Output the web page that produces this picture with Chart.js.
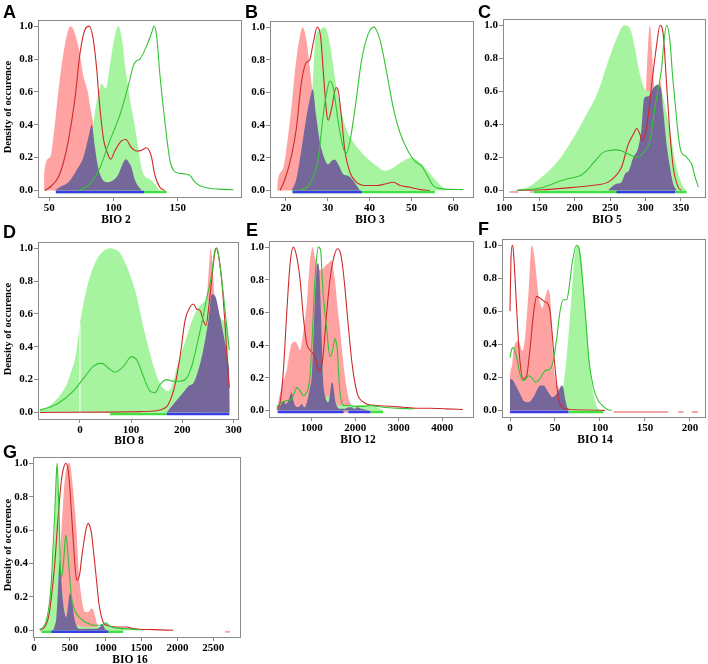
<!DOCTYPE html>
<html>
<head>
<meta charset="utf-8">
<script src="https://cdn.jsdelivr.net/npm/chart.js"></script>
<style>
  body { margin: 0; background: #fff; }
  #fig { position: relative; width: 708px; height: 664px; overflow: hidden; }
  #fig canvas { position: absolute; }
  .tag { position: absolute; font: bold 18px "Liberation Sans", Arial, sans-serif; line-height: 18px; color: #000; }
  .xt { position: absolute; font: bold 11.5px "Liberation Serif", "Times New Roman", serif; color: #000;
        transform: translate(-50%, -50%); white-space: nowrap; }
  .yt { position: absolute; font: bold 10.5px "Liberation Serif", "Times New Roman", serif; color: #000;
        transform: translate(-50%, -50%) rotate(-90deg); white-space: nowrap; }
</style>
</head>
<body>
<div id="fig"></div>
<script>
// shared labels
const Y_TICKS = [0, 0.2, 0.4, 0.6, 0.8, 1.0];
const Y_TITLE = "Density of occurence";

// Panel A - BIO 2
const aXTicks = [50, 100, 150];
const aRedFill = [[45.9,0],[46,0.1],[50.5,0.2],[54,0.38],[57,0.6],[62,0.88],[66.6,1.0],[72.6,0.88],[76.5,0.7],[80,0.6],[82,0.5],[84,0.42],[87,0.3],[90,0.2],[95,0.08],[100,0.02],[105,0]];
const aGreenFill = [[70,0],[75,0.02],[78,0.06],[81,0.15],[83,0.3],[85.6,0.48],[88,0.58],[90.8,0.65],[94,0.62],[97,0.75],[100,0.9],[103.8,1.0],[107,0.9],[109,0.76],[112,0.6],[114,0.5],[116,0.42],[118,0.32],[120,0.22],[122,0.13],[124,0.09],[128,0.07],[131,0.05],[134,0.02],[136,0]];
const aPurple = [[54.4,0],[58,0.02],[63.5,0.04],[67,0.07],[71,0.12],[76.5,0.2],[81,0.34],[83,0.4],[85.6,0.26],[87.5,0.16],[89.5,0.1],[92,0.06],[94.7,0.05],[98,0.055],[101,0.07],[104,0.1],[106,0.14],[109.7,0.19],[112,0.17],[114,0.14],[116,0.08],[118,0.04],[122,0]];
const aRedLine = [[46.6,0],[52,0.03],[57,0.08],[61,0.17],[64.8,0.3],[70,0.56],[74,0.84],[77.8,0.98],[81,1.0],[84,0.93],[86.9,0.74],[88.5,0.58],[90.8,0.4],[92.5,0.3],[94.7,0.24],[97.8,0.19],[101,0.24],[106,0.3],[109.7,0.31],[114,0.26],[118,0.24],[122,0.245],[125.8,0.26],[128,0.24],[129.7,0.2],[132,0.1],[136,0.02],[140,0]];
const aGreenLine = [[72.6,0],[81.7,0.04],[89.5,0.14],[97,0.3],[105,0.46],[111.6,0.64],[115.5,0.76],[118,0.79],[120.6,0.8],[125.8,0.88],[129.7,0.96],[131.6,1.0],[133.6,0.94],[136.2,0.7],[140,0.42],[144,0.18],[147,0.12],[151,0.105],[156,0.1],[159.6,0.09],[163.5,0.05],[167,0.03],[172.6,0.016],[182,0.008],[193.4,0.004]];
const aBarRed = [];
const aBarGreen = [[55,141.4]];
const aBarBlue = [[55.2,123.8]];

// Panel B - BIO 3
const bXTicks = [20, 30, 40, 50, 60];
const bRedFill = [[17.9,0],[18,0.045],[19.4,0.14],[20.6,0.35],[21.5,0.55],[22.2,0.74],[23.3,0.94],[24,1.0],[24.9,0.92],[25.5,0.8],[26.1,0.66],[26.8,0.52],[27.5,0.4],[28.5,0.25],[30,0.1],[32,0.04],[35,0.01],[37,0]];
const bGreenFill = [[21,0],[23,0.03],[24.5,0.12],[25.5,0.3],[26,0.45],[26.5,0.7],[27,0.92],[28,0.98],[29.3,1.0],[30.5,0.9],[31.2,0.78],[32,0.64],[33.3,0.48],[34.5,0.37],[36,0.3],[37.5,0.25],[39.3,0.2],[41.7,0.15],[43.7,0.12],[45.7,0.14],[48,0.18],[50,0.2],[51.6,0.18],[53.2,0.14],[55.2,0.08],[56.8,0.035],[58.4,0]];
const bPurple = [[21.4,0],[22.5,0.07],[23.7,0.25],[24.9,0.45],[25.9,0.58],[26.4,0.62],[27.2,0.46],[28.1,0.3],[29.3,0.19],[30.1,0.16],[30.9,0.18],[31.7,0.19],[32.5,0.16],[33.7,0.1],[34.9,0.09],[36.1,0.06],[37.7,0]];
const bRedLine = [[18.6,0],[19.8,0.07],[21.4,0.22],[22.5,0.38],[23.7,0.66],[24.8,0.78],[25.7,0.8],[26.5,0.9],[27.5,1.0],[28.3,0.94],[28.9,0.74],[29.7,0.48],[30.1,0.43],[30.9,0.5],[32,0.63],[32.5,0.61],[33.3,0.44],[34.1,0.24],[35.3,0.11],[36.9,0.05],[39.3,0.03],[41.7,0.03],[43.7,0.04],[45.7,0.05],[47.3,0.03],[49.6,0.02],[52,0.005],[54.4,0]];
const bGreenLine = [[23.3,0],[25.7,0.04],[27.7,0.19],[28.9,0.46],[29.9,0.62],[30.5,0.67],[31.3,0.63],[32.5,0.42],[33.7,0.26],[34.5,0.23],[35.3,0.3],[36.5,0.5],[38.1,0.8],[39.7,0.96],[41,1.0],[42.5,0.92],[44.1,0.72],[45.7,0.5],[47.3,0.35],[49.2,0.24],[50.8,0.18],[52.4,0.15],[53.6,0.1],[55.2,0.03],[57.6,0.01],[62.4,0.005]];
const bBarRed = [];
const bBarGreen = [[21.6,55.6]];
const bBarBlue = [[21.6,38.1]];

// Panel C - BIO 5
const cXTicks = [100, 150, 200, 250, 300, 350];
const cRedFill = [[288,0],[292,0.05],[296,0.2],[299,0.45],[302,0.75],[304,0.92],[306,1.0],[308,0.92],[310.5,0.72],[313,0.6],[315.6,0.58],[318,0.62],[321,0.66],[324,0.55],[328,0.3],[332,0.1],[336,0.02],[340,0]];
const cGreenFill = [[115.5,0],[134,0.02],[153,0.08],[176.7,0.18],[195.6,0.3],[214,0.44],[233,0.6],[247,0.78],[259,0.92],[270,1.0],[278,0.98],[285,0.86],[292,0.7],[298,0.62],[305,0.6],[315,0.6],[322,0.6],[328,0.5],[334,0.38],[340,0.22],[346,0.1],[352,0.03],[358,0]];
const cPurple = [[247,0],[252,0.02],[259,0.04],[266,0.05],[271,0.1],[276.5,0.12],[282.7,0.2],[289.7,0.26],[294.4,0.38],[298,0.56],[304,0.57],[311,0.62],[317,0.64],[321.7,0.62],[325,0.48],[329.7,0.28],[334.5,0.14],[339,0.04],[344,0]];
const cRedLine = [[120,0],[153,0.004],[186,0.014],[224,0.03],[247,0.05],[258,0.09],[266,0.14],[275.6,0.28],[282.7,0.34],[287.4,0.375],[292,0.34],[295,0.3],[297,0.31],[301.5,0.38],[305,0.5],[308.6,0.64],[315.6,0.88],[320.3,1.0],[325,0.94],[329.7,0.64],[334.5,0.34],[339,0.14],[346,0.02],[351,0]];
const cGreenLine = [[118,0],[153,0.016],[181.5,0.06],[200,0.08],[208,0.09],[216.8,0.12],[225,0.16],[233,0.2],[240,0.23],[247,0.24],[258,0.245],[266,0.24],[275.6,0.22],[287.4,0.2],[297,0.23],[306,0.3],[313,0.5],[318,0.62],[322.7,0.74],[325.5,0.88],[329.7,1.0],[334.5,0.9],[338,0.7],[341.5,0.54],[345,0.38],[348.6,0.26],[352,0.22],[355.6,0.21],[360,0.19],[365,0.16],[370,0.08],[374.5,0.02]];
const cBarRed = [[108,120],[137,140]];
const cBarGreen = [[141.4,358]];
const cBarBlue = [[259,341.5]];

// Panel D - BIO 8
const dXTicks = [0, 100, 200, 300];
const dRedFill = [[238,0],[242,0.4],[246,0.58],[250,0.78],[253,0.92],[256,1.0],[259,0.9],[262,0.75],[266,0.62],[272,0.5],[280,0.35],[288,0.15],[292,0]];
const dGreenFill = [[-79,0],[-78,0.015],[-65,0.03],[-52,0.06],[-40,0.1],[-26,0.17],[-17,0.25],[-10,0.32],[-5,0.42],[0,0.54],[6,0.65],[13,0.75],[22,0.85],[32.6,0.93],[45,0.98],[58.7,1.0],[70,0.99],[78,0.97],[90,0.9],[101,0.81],[110,0.72],[117,0.62],[127,0.48],[137,0.36],[145,0.27],[153,0.2],[160,0.16],[166,0.14],[173,0.13],[178,0.15],[182.6,0.19],[189,0.27],[195.7,0.34],[208.7,0.46],[218,0.55],[228,0.62],[238,0.66],[248,0.68],[258,0.67],[267.5,0.62],[280.5,0.56],[290,0.5],[291,0]];
const dPurple = [[169.6,0],[182.6,0.05],[199,0.11],[212,0.16],[222,0.18],[231.6,0.26],[241,0.38],[251,0.56],[257.7,0.72],[264,0.71],[274,0.58],[284,0.42],[290,0.3],[292,0.22],[293,0]];
const dRedLine = [[-78,0],[117,0.005],[150,0.01],[165,0.025],[173,0.05],[186,0.17],[195.7,0.34],[205.5,0.56],[215,0.64],[222,0.66],[228,0.63],[235,0.62],[241,0.56],[246.6,0.53],[251,0.62],[257.7,0.81],[263,0.96],[266,1.0],[270,0.97],[277,0.81],[284,0.52],[290,0.22],[292,0.15]];
const dGreenLine = [[-78,0.014],[-45.6,0.05],[-13,0.13],[10,0.22],[26,0.28],[42.4,0.3],[55.4,0.27],[68.5,0.245],[85,0.28],[101,0.34],[111,0.32],[124,0.22],[137,0.13],[147,0.12],[156.6,0.17],[169.6,0.2],[182.6,0.19],[195.7,0.19],[208.7,0.21],[218.5,0.28],[228,0.4],[238,0.54],[248,0.7],[257.7,0.84],[264,0.99],[267.5,1.0],[277,0.81],[287,0.52],[292,0.38]];
const dGap = [[0,0],[0,0.54]];
const dBarRed = [];
const dBarGreen = [[58.7,169.6]];
const dBarBlue = [[169.6,292]];

// Panel E - BIO 12
const eXTicks = [1000, 2000, 3000, 4000];
const eRedFill = [[198,0],[230,0.05],[313,0.15],[427,0.25],[542,0.41],[618,0.42],[680,0.4],[733,0.37],[790,0.45],[840,0.55],[885,0.65],[925,0.8],[962,0.92],[1023,1.0],[1070,0.94],[1130,0.88],[1200,0.86],[1267,0.87],[1330,0.89],[1382,0.9],[1458,0.92],[1500,0.86],[1534,0.8],[1590,0.64],[1649,0.5],[1710,0.33],[1763,0.21],[1820,0.11],[1878,0.05],[1950,0.02],[2030,0.01],[2100,0]];
const eGreenFill = [[250,0],[400,0.02],[700,0.02],[900,0.03],[1000,0.1],[1080,0.5],[1130,0.85],[1170,0.8],[1230,0.4],[1300,0.08],[1500,0.1],[1600,0.03],[1800,0.03],[2000,0.03],[2200,0.035],[2400,0.035],[2500,0.02],[2650,0]];
const ePurple = [[198,0],[280,0.03],[351,0.06],[400,0.04],[450,0.05],[542,0.11],[580,0.06],[618,0.03],[695,0.02],[771,0.04],[830,0.02],[880,0.04],[924,0.09],[960,0.14],[1000,0.21],[1040,0.45],[1076,0.7],[1110,0.86],[1130,0.9],[1150,0.9],[1176,0.85],[1200,0.7],[1229,0.45],[1260,0.2],[1305,0.09],[1340,0.06],[1382,0.05],[1420,0.1],[1458,0.17],[1480,0.17],[1496,0.15],[1530,0.08],[1573,0.03],[1650,0.01],[1750,0.01],[1850,0.02],[1916,0.02],[1980,0.01],[2050,0.02],[2150,0.01],[2336,0]];
const eRedLine = [[198,0.01],[275,0.05],[351,0.25],[427,0.6],[504,0.9],[580,1.0],[656,0.94],[733,0.8],[809,0.57],[885,0.41],[962,0.37],[1020,0.35],[1076,0.33],[1153,0.25],[1191,0.24],[1230,0.27],[1267,0.35],[1344,0.6],[1420,0.8],[1511,0.94],[1588,0.99],[1664,0.96],[1720,0.86],[1763,0.75],[1820,0.58],[1878,0.41],[1935,0.27],[1992,0.17],[2050,0.1],[2107,0.07],[2260,0.04],[2489,0.03],[2794,0.026],[3100,0.02],[3405,0.014],[3710,0.014],[4092,0.01],[4473,0.006]];
const eGreenLine = [[198,0.02],[313,0.05],[427,0.06],[542,0.07],[618,0.12],[656,0.14],[700,0.13],[733,0.12],[809,0.09],[860,0.1],[901,0.12],[962,0.21],[1000,0.38],[1038,0.6],[1070,0.78],[1100,0.9],[1153,1.0],[1206,0.98],[1240,0.82],[1267,0.7],[1344,0.5],[1420,0.33],[1450,0.34],[1481,0.37],[1534,0.44],[1560,0.42],[1588,0.37],[1620,0.22],[1649,0.11],[1690,0.05],[1725,0.03],[1878,0.03],[2030,0.025],[2183,0.025],[2336,0.03],[2641,0.02],[2947,0.014],[3328,0.01]];
const eBarRed = [[198,1840]];
const eBarGreen = [[2350,2640]];
const eBarBlue = [[230,1730],[1840,2350]];

// Panel F - BIO 14
const fXTicks = [0, 50, 100, 150, 200];
const fRedFill = [[-0.1,0],[0,0.2],[1.9,0.26],[3.7,0.36],[5.6,0.4],[8.5,0.42],[11,0.4],[13.7,0.36],[16.7,0.44],[18.5,0.56],[20.4,0.7],[22,0.85],[24,1.0],[26,0.97],[27.8,0.9],[30,0.78],[31.5,0.7],[34,0.64],[36,0.62],[39,0.68],[41.9,0.73],[44.4,0.7],[46,0.55],[47,0.4],[50,0.2],[53.7,0.14],[57.4,0.1],[59,0.06],[61,0.02],[65,0]];
const fGreenFill = [[50,0],[55.6,0.06],[61,0.22],[64.8,0.44],[68.5,0.7],[72,0.94],[75,1.0],[78.9,0.94],[82.6,0.7],[86.3,0.44],[90,0.2],[94.4,0.06],[98,0.01],[100,0]];
const fPurple = [[-0.1,0],[0,0.19],[3.7,0.18],[6.5,0.15],[9.3,0.12],[12,0.09],[14.8,0.06],[20.4,0.05],[26,0.08],[31.5,0.14],[34,0.15],[37,0.15],[42.6,0.11],[47,0.08],[52,0.1],[55,0.13],[57.4,0.15],[59.5,0.13],[61,0.08],[63,0.03],[65,0]];
const fRedLine = [[0,0.6],[1,0.9],[2.5,1.0],[3.5,0.98],[5.6,0.8],[8.5,0.5],[11,0.3],[14.8,0.19],[18.5,0.21],[22,0.36],[26,0.58],[29.6,0.69],[33,0.68],[38,0.66],[42.6,0.64],[44.5,0.6],[46.3,0.5],[50,0.26],[53.7,0.08],[59,0.014],[72,0.004],[105.6,0]];
const fGreenLine = [[0,0.32],[1.9,0.37],[3.7,0.38],[5.5,0.36],[7.4,0.32],[11,0.22],[14.8,0.18],[17.5,0.19],[20.4,0.21],[24,0.2],[28.5,0.17],[33,0.19],[39,0.24],[44.4,0.25],[48,0.3],[52,0.44],[55.6,0.6],[59,0.67],[63,0.67],[65.6,0.74],[69.3,0.9],[74,1.0],[76.7,0.98],[80.4,0.8],[84,0.56],[87.8,0.3],[92.6,0.14],[98,0.06],[103.7,0.024],[109,0.004],[113,0]];
const fBarRed = [[115,176],[187,193],[202,209]];
const fBarGreen = [[65,103.7]];
const fBarBlue = [[0,65]];

// Panel G - BIO 16
const gXTicks = [0, 500, 1000, 1500, 2000, 2500];
const gRedFill = [[172,0],[220,0.03],[265,0.08],[300,0.2],[335,0.32],[360,0.45],[382,0.6],[405,0.76],[428,0.9],[452,0.97],[475,1.0],[498,1.0],[520,0.94],[545,0.84],[570,0.72],[592,0.6],[610,0.45],[629,0.32],[645,0.25],[661,0.2],[685,0.14],[708,0.11],[755,0.11],[801,0.13],[830,0.12],[848,0.09],[870,0.05],[894,0.02],[941,0]];
const gGreenFill = [[79,0],[120,0.01],[172,0.06],[210,0.15],[242,0.3],[265,0.45],[289,0.6],[305,0.8],[321,1.0],[335,0.82],[349,0.6],[365,0.45],[382,0.3],[405,0.18],[428,0.12],[460,0.07],[500,0.04],[600,0.03],[700,0.02],[800,0.02],[918,0.02],[960,0.035],[1001,0.045],[1050,0.03],[1104,0.02],[1250,0.01],[1476,0.005],[1550,0]];
const gPurple = [[265,0],[290,0.03],[312,0.08],[330,0.22],[349,0.38],[362,0.42],[373,0.36],[390,0.24],[405,0.17],[425,0.11],[452,0.08],[475,0.15],[498,0.22],[520,0.2],[536,0.16],[552,0.1],[568,0.06],[600,0.02],[638,0.01],[708,0.01],[780,0.01],[850,0.01],[918,0.02],[941,0.04],[965,0.03],[987,0.01],[1034,0]];
const gRedLine = [[79,0],[149,0.02],[190,0.06],[219,0.12],[255,0.25],[289,0.4],[325,0.62],[359,0.8],[382,0.9],[405,0.96],[443,1.0],[475,0.96],[500,0.85],[522,0.7],[545,0.55],[568,0.4],[585,0.32],[601,0.3],[620,0.31],[638,0.34],[660,0.42],[685,0.5],[722,0.6],[755,0.64],[780,0.62],[801,0.58],[835,0.45],[871,0.3],[905,0.16],[941,0.08],[975,0.04],[1011,0.03],[1150,0.02],[1290,0.02],[1380,0.01],[1476,0.006],[1663,0.004],[1942,0]];
const gGreenLine = [[79,0.006],[130,0.02],[172,0.06],[210,0.15],[242,0.3],[265,0.5],[289,0.7],[305,0.88],[321,1.0],[335,0.88],[349,0.7],[365,0.4],[382,0.32],[400,0.36],[414,0.42],[430,0.52],[443,0.57],[460,0.52],[475,0.44],[500,0.3],[522,0.2],[550,0.14],[592,0.1],[650,0.07],[708,0.05],[765,0.04],[825,0.03],[941,0.03],[975,0.04],[1001,0.045],[1040,0.03],[1081,0.02],[1243,0.01],[1476,0.004]];
const gBarRed = [[2664,2734]];
const gBarGreen = [[102,1243]];
const gBarBlue = [[242,1034]];

// colours
const C = {
  redFill: "#ffa2a2", greenFill: "#a6f4a0", purple: "#76679b",
  redLine: "#cf2a2a", greenLine: "#33c433",
  barRed: "#f4a8a8", barGreen: "#3fe03f", barBlue: "#3b3bea",
  axis: "#8a8a8a", gap: "#ffffff",
};

const panels = [
  { tag: "A", name: "BIO 2", box: [38, 16, 241, 197], xMin: 41.2, xMax: 199.3, xTicks: aXTicks,
    redFill: aRedFill, greenFill: aGreenFill, purple: aPurple, redLine: aRedLine, greenLine: aGreenLine,
    barRed: aBarRed, barGreen: aBarGreen, barBlue: aBarBlue, tagAt: [3, 3], nameAt: [116, 219], yTitle: true },
  { tag: "B", name: "BIO 3", box: [270, 17, 473, 197], xMin: 16.2, xMax: 64.7, xTicks: bXTicks,
    redFill: bRedFill, greenFill: bGreenFill, purple: bPurple, redLine: bRedLine, greenLine: bGreenLine,
    barRed: bBarRed, barGreen: bBarGreen, barBlue: bBarBlue, tagAt: [245, 3], nameAt: [370, 219] },
  { tag: "C", name: "BIO 5", box: [503, 15, 705, 197], xMin: 98.6, xMax: 383.9, xTicks: cXTicks,
    redFill: cRedFill, greenFill: cGreenFill, purple: cPurple, redLine: cRedLine, greenLine: cGreenLine,
    barRed: cBarRed, barGreen: cBarGreen, barBlue: cBarBlue, tagAt: [478, 3], nameAt: [607, 219] },
  { tag: "D", name: "BIO 8", box: [38, 238, 238, 419], xMin: -82, xMax: 309, xTicks: dXTicks,
    redFill: dRedFill, greenFill: dGreenFill, purple: dPurple, redLine: dRedLine, greenLine: dGreenLine,
    barRed: dBarRed, barGreen: dBarGreen, barBlue: dBarBlue, gap: dGap, tagAt: [3, 223], nameAt: [129, 440], yTitle: true },
  { tag: "E", name: "BIO 12", box: [269, 237, 473, 417], xMin: 19, xMax: 4705, xTicks: eXTicks,
    redFill: eRedFill, greenFill: eGreenFill, purple: ePurple, redLine: eRedLine, greenLine: eGreenLine,
    barRed: eBarRed, barGreen: eBarGreen, barBlue: eBarBlue, tagAt: [246, 221], nameAt: [358, 439] },
  { tag: "F", name: "BIO 14", box: [502, 235, 705, 417], xMin: -8.9, xMax: 216.7, xTicks: fXTicks,
    redFill: fRedFill, greenFill: fGreenFill, purple: fPurple, redLine: fRedLine, greenLine: fGreenLine,
    barRed: fBarRed, barGreen: fBarGreen, barBlue: fBarBlue, tagAt: [478, 220], nameAt: [595, 439] },
  { tag: "G", name: "BIO 16", box: [33, 453, 240, 637], xMin: -15, xMax: 2873, xTicks: gXTicks,
    redFill: gRedFill, greenFill: gGreenFill, purple: gPurple, redLine: gRedLine, greenLine: gGreenLine,
    barRed: gBarRed, barGreen: gBarGreen, barBlue: gBarBlue, tagAt: [3, 443], nameAt: [130, 659], yTitle: true },
];

Chart.defaults.font.family = '"Liberation Serif", "Times New Roman", serif';
Chart.defaults.font.size = 11;
Chart.defaults.font.weight = "bold";
Chart.defaults.color = "#000";

const BAR_Y = -0.009;
const toXY = (pts) => pts.map(([x, y]) => ({ x, y }));
const toBar = (segs) => segs.flatMap(([a, b]) => [{ x: a, y: BAR_Y }, { x: b, y: BAR_Y }, { x: b, y: null }]);

const area = (pts, color) => ({
  data: toXY(pts), fill: "origin", backgroundColor: color, borderWidth: 0,
  pointRadius: 0, cubicInterpolationMode: "monotone",
});
const curve = (pts, color) => ({
  data: toXY(pts), fill: false, borderColor: color, borderWidth: 1.1,
  pointRadius: 0, cubicInterpolationMode: "monotone",
});
const bar = (segs, color, w) => ({
  data: toBar(segs), fill: false, borderColor: color, borderWidth: w,
  pointRadius: 0, spanGaps: false, tension: 0,
});

// full grey frame around the plot area
const framePlugin = {
  id: "frame",
  afterDraw(chart) {
    const { left, top, right, bottom } = chart.chartArea;
    const ctx = chart.ctx;
    ctx.save();
    ctx.strokeStyle = C.axis;
    ctx.lineWidth = 1;
    ctx.strokeRect(Math.round(left) + 0.5, Math.round(top) + 0.5, Math.round(right - left), Math.round(bottom - top));
    ctx.restore();
  },
};

const fig = document.getElementById("fig");
const Y_W = 40, PAD_T = 4, PAD_R = 16, X_H = 18;

panels.forEach((p) => {
  const [bl, bt, br, bb] = p.box;
  const cl = bl - Y_W, ct = bt - PAD_T;
  const cv = document.createElement("canvas");
  cv.width = br - cl + PAD_R;
  cv.height = bb - ct + X_H;
  cv.style.left = cl + "px";
  cv.style.top = ct + "px";
  fig.appendChild(cv);

  // first dataset is painted on top
  const datasets = [
    bar(p.barBlue, C.barBlue, 2.5),
    bar(p.barGreen, C.barGreen, 2.5),
    bar(p.barRed, C.barRed, 2),
    curve(p.greenLine, C.greenLine),
    curve(p.redLine, C.redLine),
  ];
  if (p.gap) datasets.push({ ...curve(p.gap, C.gap), borderWidth: 1.2, cubicInterpolationMode: "default", tension: 0 });
  datasets.push(area(p.purple, C.purple), area(p.greenFill, C.greenFill), area(p.redFill, C.redFill));

  new Chart(cv, {
    type: "line",
    data: { datasets },
    options: {
      responsive: false,
      animation: false,
      events: [],
      layout: { padding: { left: 0, top: PAD_T, right: PAD_R, bottom: 0 } },
      plugins: { legend: { display: false }, tooltip: { enabled: false } },
      scales: {
        x: {
          type: "linear", min: p.xMin, max: p.xMax,
          afterBuildTicks: (s) => { s.ticks = p.xTicks.map((v) => ({ value: v })); },
          afterFit: (s) => { s.height = X_H; },
          grid: { display: true, drawOnChartArea: false, drawTicks: true, tickLength: 4, color: C.axis },
          border: { display: false },
          ticks: { autoSkip: false, maxRotation: 0, minRotation: 0, padding: 1, callback: (v) => String(v) },
        },
        y: {
          type: "linear", min: -0.04, max: 1.04,
          afterBuildTicks: (s) => { s.ticks = Y_TICKS.map((v) => ({ value: v })); },
          afterFit: (s) => { s.width = Y_W; },
          grid: { display: true, drawOnChartArea: false, drawTicks: true, tickLength: 4, color: C.axis },
          border: { display: false },
          ticks: { padding: 1, callback: (v) => v.toFixed(1) },
        },
      },
    },
    plugins: [framePlugin],
  });

  const tag = document.createElement("div");
  tag.className = "tag";
  tag.textContent = p.tag;
  tag.style.left = p.tagAt[0] + "px";
  tag.style.top = p.tagAt[1] + "px";
  fig.appendChild(tag);

  const xt = document.createElement("div");
  xt.className = "xt";
  xt.textContent = p.name;
  xt.style.left = p.nameAt[0] + "px";
  xt.style.top = p.nameAt[1] + "px";
  fig.appendChild(xt);

  if (p.yTitle) {
    const yt = document.createElement("div");
    yt.className = "yt";
    yt.textContent = Y_TITLE;
    yt.style.left = "7px";
    yt.style.top = (bt + bb) / 2 + "px";
    fig.appendChild(yt);
  }
});
</script>
</body>
</html>
